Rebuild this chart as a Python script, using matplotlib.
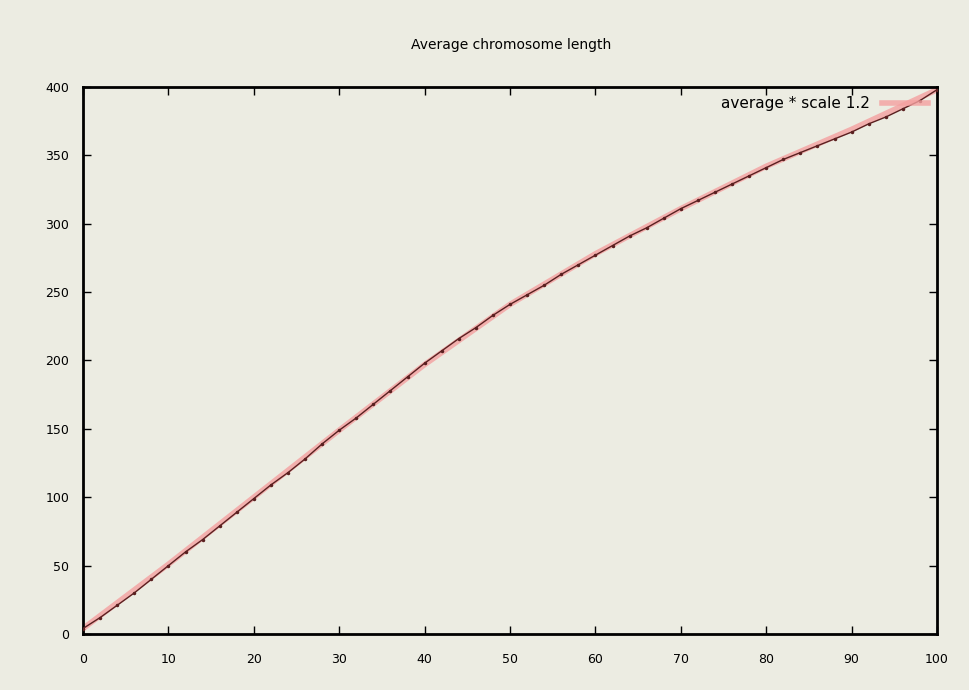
import matplotlib
matplotlib.use('Agg')
import matplotlib.pyplot as plt

# values
xs = [0, 2, 4, 6, 8, 10, 12, 14, 16, 18, 20, 22, 24, 26, 28, 30, 32, 34, 36, 38,
      40, 42, 44, 46, 48, 50, 52, 54, 56, 58, 60, 62, 64, 66, 68, 70, 72, 74, 76, 78,
      80, 82, 84, 86, 88, 90, 92, 94, 96, 98, 100]
ys = [4, 12, 21, 30, 40, 50, 60, 69, 79, 89, 99, 109, 118, 128, 139, 149, 158, 168, 178, 188,
      198, 207, 216, 224, 233, 241, 248, 255, 263, 270, 277, 284, 291, 297, 304, 311, 317, 323, 329, 335,
      341, 347, 352, 357, 362, 367, 373, 378, 384, 390, 398]

fit_x = [0, 10, 20, 30, 40, 50, 60, 70, 80, 90, 100]
fit_y = [4, 51, 100, 149, 197, 241, 278, 311, 342, 369, 398]

title = 'Average chromosome length'
legend_label = 'average * scale 1.2'
xticks = [0, 10, 20, 30, 40, 50, 60, 70, 80, 90, 100]
yticks = [0, 50, 100, 150, 200, 250, 300, 350, 400]

bg = '#ECECE2'
fig = plt.figure(figsize=(9.69, 6.90), dpi=100, facecolor=bg)
ax = fig.add_axes([0.0857, 0.0812, 0.8813, 0.7928], facecolor=bg)

ax.plot(fit_x, fit_y, color='#F4A0A0', lw=4, alpha=0.8, label=legend_label, zorder=2)
ax.plot(xs, ys, color='#5A2020', lw=1.0, marker='.', ms=3, zorder=3)

ax.set_xlim(0, 100)
ax.set_ylim(0, 400)
ax.set_xticks(xticks)
ax.set_yticks(yticks)
ax.tick_params(direction='in', top=True, right=True, length=6, width=1,
               labelsize=9, pad=10)
ax.tick_params(axis='x', pad=14)
for s in ax.spines.values():
    s.set_linewidth(2)

fig.text(0.527, 0.935, title, ha='center', va='center', fontsize=10)
ax.legend(loc='upper right', frameon=False, fontsize=11, handlelength=3,
          markerfirst=False, borderaxespad=0.2)

fig.savefig('out.png', dpi=100, facecolor=bg)
